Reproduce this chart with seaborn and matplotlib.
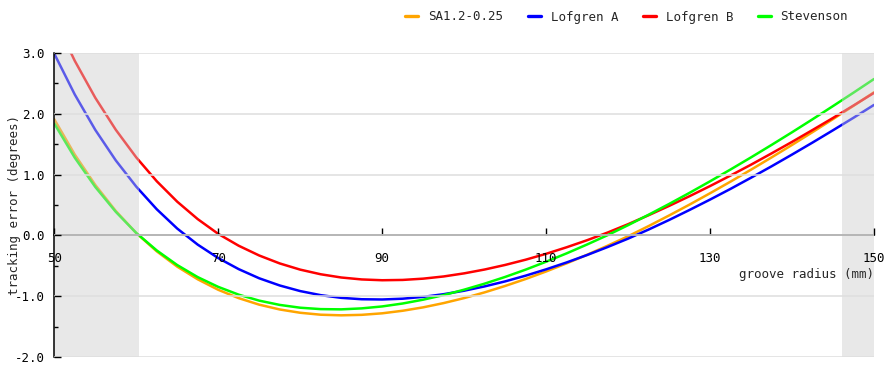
import matplotlib
matplotlib.use("Agg")
import matplotlib.pyplot as plt
from matplotlib.lines import Line2D
import pandas as pd
import seaborn as sns

# groove radius (mm) at which each alignment's tracking error is tabulated
radius = [50.0, 52.5, 55.0, 57.5, 60.0, 62.5, 65.0, 67.5, 70.0, 72.5,
          75.0, 77.5, 80.0, 82.5, 85.0, 87.5, 90.0, 92.5, 95.0, 97.5,
          100.0, 102.5, 105.0, 107.5, 110.0, 112.5, 115.0, 117.5, 120.0,
          122.5, 125.0, 127.5, 130.0, 132.5, 135.0, 137.5, 140.0, 142.5,
          145.0, 147.5, 150.0]

# tracking error (degrees) for each alignment
sa_err = [1.907, 1.327, 0.829, 0.402, 0.039, -0.261, -0.512, -0.720, -0.892,
          -1.029, -1.136, -1.215, -1.269, -1.301, -1.311, -1.303, -1.278,
          -1.236, -1.180, -1.110, -1.028, -0.934, -0.829, -0.715, -0.591,
          -0.458, -0.317, -0.168, -0.013, 0.154, 0.328, 0.507, 0.693, 0.884,
          1.080, 1.281, 1.486, 1.696, 1.910, 2.128, 2.350]
lofgren_a_err = [2.983, 2.313, 1.733, 1.232, 0.801, 0.430, 0.113, -0.151,
                 -0.371, -0.553, -0.703, -0.821, -0.913, -0.980, -1.024,
                 -1.047, -1.051, -1.038, -1.008, -0.964, -0.907, -0.836,
                 -0.754, -0.660, -0.556, -0.443, -0.321, -0.190, -0.052,
                 0.097, 0.254, 0.419, 0.589, 0.765, 0.948, 1.135, 1.328,
                 1.525, 1.727, 1.932, 2.143]
lofgren_b_err = [3.565, 2.866, 2.260, 1.735, 1.281, 0.890, 0.554, 0.268,
                 0.026, -0.169, -0.329, -0.459, -0.561, -0.637, -0.690,
                 -0.722, -0.735, -0.730, -0.709, -0.673, -0.622, -0.559,
                 -0.484, -0.398, -0.301, -0.194, -0.078, 0.048, 0.185, 0.332,
                 0.485, 0.645, 0.811, 0.984, 1.162, 1.347, 1.536, 1.731,
                 1.929, 2.133, 2.341]
stevenson_err = [1.836, 1.276, 0.796, 0.388, 0.041, -0.246, -0.486, -0.684,
                 -0.844, -0.972, -1.070, -1.140, -1.186, -1.209, -1.213,
                 -1.197, -1.165, -1.117, -1.054, -0.979, -0.890, -0.791,
                 -0.681, -0.561, -0.431, -0.294, -0.148, 0.005, 0.169, 0.340,
                 0.517, 0.700, 0.889, 1.083, 1.282, 1.486, 1.694, 1.907,
                 2.124, 2.344, 2.568]

names = ["SA1.2-0.25", "Lofgren A", "Lofgren B", "Stevenson"]
colors = ["#ffa500", "#0000ff", "#ff0000", "#00ff00"]

# IEC limits of the recorded area (innermost / outermost groove)
inner_groove = 60.325
outer_groove = 146.05

x_ticks = [50, 70, 90, 110, 130, 150]
y_ticks = [-2.0, -1.0, 0.0, 1.0, 2.0, 3.0]

df = pd.DataFrame({
    "radius": radius * 4,
    "error": sa_err + lofgren_a_err + lofgren_b_err + stevenson_err,
    "alignment": [n for n in names for _ in radius],
})

sns.set_style("white")
plt.rcParams["font.family"] = ["DejaVu Sans Mono", "DejaVu Sans"]
plt.rcParams["axes.unicode_minus"] = False
plt.rcParams["font.size"] = 9

W, H = 886, 366
fig = plt.figure(figsize=(W / 100, H / 100), dpi=100)
ax = fig.add_axes([54.3 / W, 1 - 357.3 / H, 819.7 / W, 304.6 / H])

sns.lineplot(data=df, x="radius", y="error", hue="alignment",
             hue_order=names, palette=colors, linewidth=1.8,
             estimator=None, sort=False, legend=False, ax=ax)

ax.set_xlim(50, 150)
ax.set_ylim(-2, 3)

# shaded bands outside the recorded area, laid over the curves
for lo, hi in [(50, inner_groove), (outer_groove, 150)]:
    ax.axvspan(lo, hi, color=(0.8, 0.8, 0.8), alpha=0.45, lw=0, zorder=3)

ax.set_xticks(x_ticks)
ax.set_xticklabels([str(v) for v in x_ticks])
ax.set_yticks(y_ticks)
ax.set_yticklabels([f"{v:.1f}" for v in y_ticks])
ax.set_yticks([-1.5, -0.5, 0.5, 1.5, 2.5], minor=True)

ax.yaxis.grid(True, which="major", color="#dedede", linewidth=1.1)
ax.xaxis.grid(False)

for side in ["top", "right"]:
    ax.spines[side].set_visible(False)
ax.spines["bottom"].set_position(("data", 0))
for side in ["left", "bottom"]:
    ax.spines[side].set_color("black")
    ax.spines[side].set_linewidth(1.1)
    ax.spines[side].set_zorder(5)
ax.xaxis.set_zorder(5)
ax.yaxis.set_zorder(5)

ax.tick_params(axis="x", which="major", direction="in", length=5, width=1,
               pad=12, labelsize=9, colors="black", bottom=True)
ax.tick_params(axis="y", which="major", direction="in", length=5, width=1,
               pad=7, labelsize=9, colors="black", left=True)
ax.tick_params(axis="y", which="minor", direction="in", length=3, width=1,
               colors="black", left=True)

ax.set_xlabel("groove radius (mm)", loc="right", labelpad=2, fontsize=9)
ax.set_ylabel("tracking error (degrees)", fontsize=9)
ax.yaxis.set_label_coords(-0.0406, 0.5)

handles = [Line2D([], [], color=c, linewidth=2.4) for c in colors]
fig.legend(handles, names, ncol=4, loc="center right",
           bbox_to_anchor=(848 / W, 1 - 17 / H), frameon=False,
           handlelength=1.04, handletextpad=0.8, columnspacing=1.95,
           borderpad=0, borderaxespad=0, fontsize=9)

fig.savefig("out.png", dpi=100)
